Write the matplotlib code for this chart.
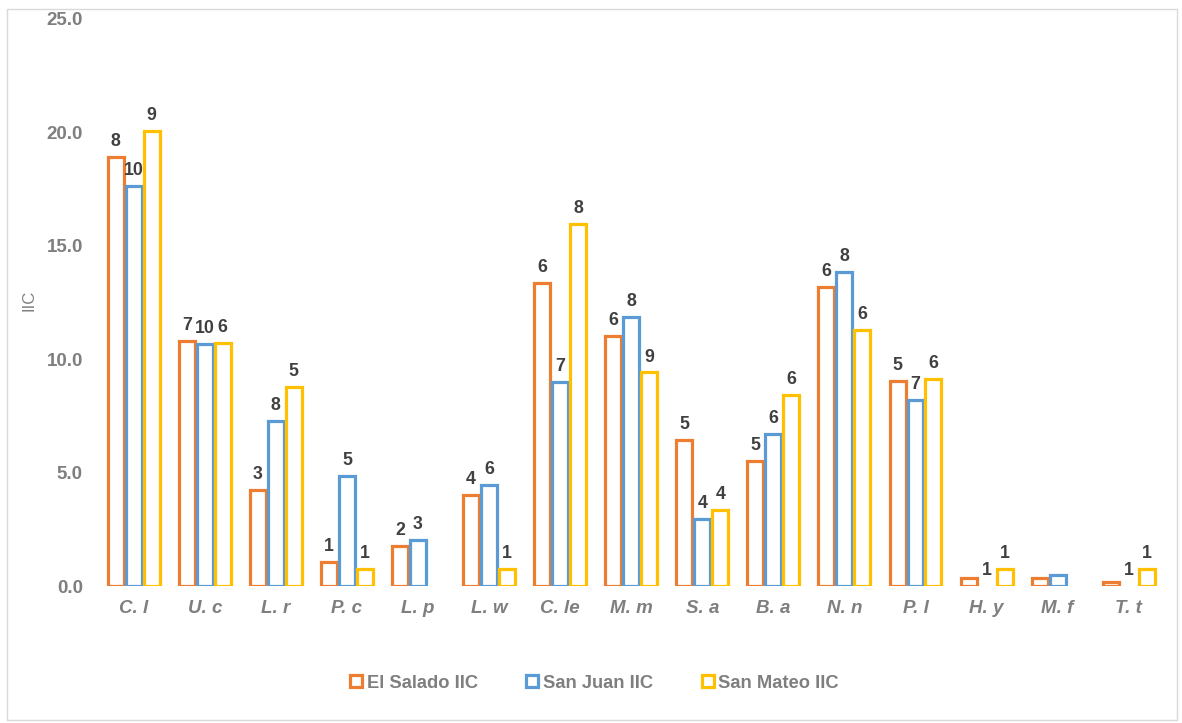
import numpy as np
import matplotlib
matplotlib.use('Agg')
import matplotlib.pyplot as plt
from matplotlib.patches import Patch, Rectangle

# data
species = ['C. l', 'U. c', 'L. r', 'P. c', 'L. p', 'L. w', 'C. le', 'M. m',
           'S. a', 'B. a', 'N. n', 'P. l', 'H. y', 'M. f', 'T. t']
el_salado = [18.93, 10.82, 4.23, 1.07, 1.78, 4.01, 13.35, 11.02,
             6.44, 5.51, 13.17, 9.04, 0.35, 0.35, 0.17]
san_juan = [17.64, 10.67, 7.28, 4.85, 2.03, 4.45, 9.0, 11.87,
            2.98, 6.73, 13.83, 8.23, 0.0, 0.5, 0.0]
san_mateo = [20.06, 10.71, 8.79, 0.75, 0.0, 0.75, 15.96, 9.42,
             3.38, 8.42, 11.29, 9.13, 0.75, 0.0, 0.75]
lab_salado = ['8', '7', '3', '1', '2', '4', '6', '6', '5', '5', '6', '5', '', '', '']
lab_juan = ['10', '10', '8', '5', '3', '6', '7', '8', '4', '6', '8', '7', '1', '', '1']
lab_mateo = ['9', '6', '5', '1', '', '1', '8', '9', '4', '6', '6', '6', '1', '', '1']

series = [('El Salado IIC', el_salado, lab_salado, '#ED7D31'),
          ('San Juan IIC', san_juan, lab_juan, '#5B9BD5'),
          ('San Mateo IIC', san_mateo, lab_mateo, '#FFC000')]

plt.rcParams['font.family'] = ['Liberation Sans', 'DejaVu Sans']

fig = plt.figure(figsize=(11.82, 7.23), dpi=100)
ax = fig.add_axes([0.083, 0.189, 0.902, 0.785])

x = np.arange(len(species))
w = 0.225
off = 0.253
handles = []
for i, (name, vals, labs, col) in enumerate(series):
    xs = x + (i - 1) * off
    edges = [col if v > 0 else 'none' for v in vals]
    ax.bar(xs, vals, width=w, facecolor='white', edgecolor=edges, linewidth=2.3)
    for xi, v, t in zip(xs, vals, labs):
        if t:
            ax.annotate(t, (xi, v), xytext=(0, 5), textcoords='offset points',
                        ha='center', va='bottom', fontsize=12.8, fontweight='bold',
                        color='#404040')
    handles.append(Patch(facecolor='white', edgecolor=col, linewidth=2.3, label=name))

ax.set_xlim(-0.5, len(species) - 0.5)
ax.set_ylim(0, 25)
ax.set_yticks(np.arange(0, 25.1, 5))
ax.set_yticklabels(['%.1f' % v for v in np.arange(0, 25.1, 5)])
ax.set_xticks(x)
ax.set_xticklabels(species, fontstyle='italic')
for s in ax.spines.values():
    s.set_visible(False)
ax.tick_params(length=0)
ax.tick_params(axis='y', pad=11)
ax.tick_params(axis='x', pad=10)
for t in ax.get_yticklabels():
    t.set_fontsize(13.5); t.set_fontweight('bold'); t.set_color('#7F7F7F')
for t in ax.get_xticklabels():
    t.set_fontsize(13.5); t.set_fontweight('bold'); t.set_color('#7F7F7F')
ax.set_ylabel('IIC', fontsize=12, color='#7F7F7F')
ax.yaxis.set_label_coords(-0.058, 0.504)

leg = fig.legend(handles=handles, loc='center', bbox_to_anchor=(0.503, 0.055), ncol=3,
                 frameon=False, handlelength=0.65, handleheight=0.65, handletextpad=0.25,
                 columnspacing=2.65, prop={'size': 13.2, 'weight': 'bold'})
for t in leg.get_texts():
    t.set_color('#7F7F7F')

fig.patches.append(Rectangle((7 / 1182, 3 / 723), 1170 / 1182, 711 / 723,
                             transform=fig.transFigure, fill=False,
                             edgecolor='#D9D9D9', linewidth=1))

fig.savefig('out.png', dpi=100)
